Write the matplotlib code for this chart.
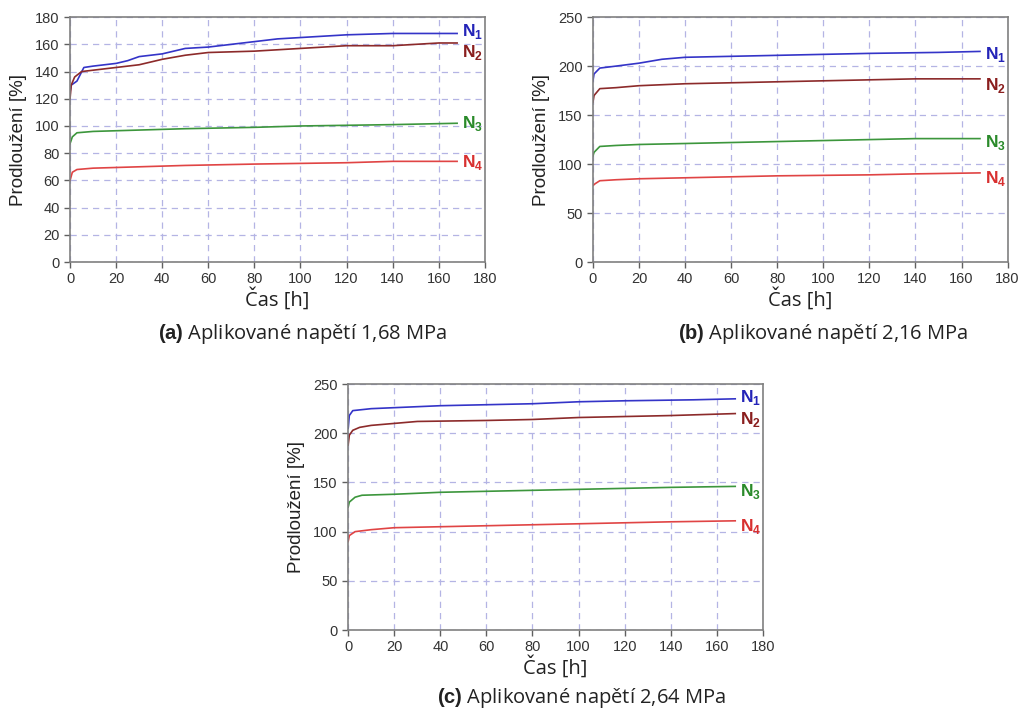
import matplotlib.pyplot as plt

plt.rcParams['font.family'] = ['Liberation Sans', 'DejaVu Sans']
plt.rcParams['mathtext.fontset'] = 'custom'
plt.rcParams['mathtext.rm'] = 'Liberation Sans'
plt.rcParams['mathtext.bf'] = 'Liberation Sans:bold'

# ─── DATA ───────────────────────────────────────────────────────────────────
# panel (a) 1,68 MPa
a_t1 = [0, 0.5, 3, 6, 10, 20, 25, 30, 40, 50, 60, 70, 80, 90, 100, 110, 120, 140, 168]
a_n1 = [125, 130, 133, 143, 144, 146, 148, 151, 153, 157, 158, 160, 162, 164, 165, 166, 167, 168, 168]
a_t2 = [0, 0.5, 2, 5, 10, 20, 30, 40, 50, 60, 80, 100, 120, 140, 160, 168]
a_n2 = [120, 130, 136, 140, 141, 143, 145, 149, 152, 154, 155, 157, 159, 159, 161, 161]
a_t3 = [0, 1, 3, 10, 30, 50, 80, 100, 140, 168]
a_n3 = [87, 92, 95, 96, 97, 98, 99, 100, 101, 102]
a_t4 = [0, 1, 3, 10, 30, 50, 80, 100, 120, 140, 168]
a_n4 = [60, 66, 68, 69, 70, 71, 72, 72.5, 73, 74, 74]

# panel (b) 2,16 MPa
b_t1 = [0, 0.5, 3, 10, 20, 30, 40, 60, 80, 100, 120, 150, 168]
b_n1 = [185, 192, 198, 200, 203, 207, 209, 210, 211, 212, 213, 214, 215]
b_t2 = [0, 0.5, 3, 10, 20, 40, 60, 80, 100, 120, 140, 168]
b_n2 = [163, 170, 177, 178, 180, 182, 183, 184, 185, 186, 187, 187]
b_t3 = [0, 0.5, 3, 10, 20, 40, 60, 80, 100, 120, 140, 168]
b_n3 = [108, 112, 118, 119, 120, 121, 122, 123, 124, 125, 126, 126]
b_t4 = [0, 1, 3, 10, 20, 40, 60, 80, 100, 120, 140, 168]
b_n4 = [78, 80, 83, 84, 85, 86, 87, 88, 88.5, 89, 90, 91]

# panel (c) 2,64 MPa
c_t1 = [0, 0.5, 2, 10, 20, 40, 60, 80, 100, 120, 150, 168]
c_n1 = [205, 218, 223, 225, 226, 228, 229, 230, 232, 233, 234, 235]
c_t2 = [0, 0.5, 2, 5, 10, 20, 30, 60, 80, 100, 120, 140, 168]
c_n2 = [188, 198, 203, 206, 208, 210, 212, 213, 214, 216, 217, 218, 220]
c_t3 = [0, 0.5, 3, 6, 20, 40, 60, 80, 100, 120, 140, 168]
c_n3 = [125, 130, 135, 137, 138, 140, 141, 142, 143, 144, 145, 146]
c_t4 = [0, 0.5, 3, 10, 20, 40, 60, 80, 100, 120, 140, 168]
c_n4 = [90, 96, 100, 102, 104, 105, 106, 107, 108, 109, 110, 111]

series_names = ['N$_\\mathbf{1}$', 'N$_\\mathbf{2}$', 'N$_\\mathbf{3}$', 'N$_\\mathbf{4}$']
captions = ['Aplikované napětí 1,68 MPa', 'Aplikované napětí 2,16 MPa', 'Aplikované napětí 2,64 MPa']
panel_tags = ['(a)', '(b)', '(c)']

line_colors = ['#3434c8', '#8c2a2a', '#3c963c', '#e04444']
text_colors = ['#2424b8', '#8a1e1e', '#2a8a2a', '#d83030']

# ─── FIGURE ─────────────────────────────────────────────────────────────────
fig = plt.figure(figsize=(10.24, 7.14), dpi=100)
fig.patch.set_facecolor('white')

panels = [
    dict(rect=[0.0684, 0.633, 0.405, 0.343], ymax=180, ystep=20,
         data=[(a_t1, a_n1), (a_t2, a_n2), (a_t3, a_n3), (a_t4, a_n4)],
         label_dy=[1.5, -7, 0, -1], cap_x=0.295, cap_y=0.516),
    dict(rect=[0.579, 0.633, 0.405, 0.343], ymax=250, ystep=50,
         data=[(b_t1, b_n1), (b_t2, b_n2), (b_t3, b_n3), (b_t4, b_n4)],
         label_dy=[-2, -5, -3, -4], cap_x=0.804, cap_y=0.516),
    dict(rect=[0.340, 0.1176, 0.405, 0.3445], ymax=250, ystep=50,
         data=[(c_t1, c_n1), (c_t2, c_n2), (c_t3, c_n3), (c_t4, c_n4)],
         label_dy=[1, -4, -4, -4], cap_x=0.568, cap_y=0.005),
]

for i, p in enumerate(panels):
    ax = fig.add_axes(p['rect'])
    for k, (t, v) in enumerate(p['data']):
        ax.plot(t, v, color=line_colors[k], lw=1.2)
        ax.text(170, v[-1] + p['label_dy'][k] * p['ymax'] / 180, series_names[k],
                color=text_colors[k], fontsize=12.5, fontweight='bold',
                va='center', ha='left')
    ax.set_xlim(0, 180)
    ax.set_ylim(0, p['ymax'])
    ax.set_xticks(range(0, 181, 20))
    ax.set_yticks(range(0, p['ymax'] + 1, p['ystep']))
    ax.grid(True, color='#b4b4e4', ls=(0, (5, 4)), lw=0.9)
    ax.set_axisbelow(True)
    for s in ax.spines.values():
        s.set_color('#808080')
        s.set_linewidth(1.2)
    ax.tick_params(colors='#606060', labelcolor='#333333', labelsize=10.5,
                   length=4, width=1)
    ax.set_xlabel('Čas [h]', fontsize=14.5, color='#222222', labelpad=1,
                  family=['Open Sans', 'DejaVu Sans'])
    ax.set_ylabel('Prodloužení [%]', fontsize=13.5, color='#222222', labelpad=6)
    fig.text(p['cap_x'], p['cap_y'], r'$\mathbf{' + panel_tags[i] + '}$ ' + captions[i],
             fontsize=14.5, color='#222222', ha='center', va='bottom',
             family=['Open Sans', 'DejaVu Sans'])

plt.savefig('out.png', dpi=100, facecolor='white')
